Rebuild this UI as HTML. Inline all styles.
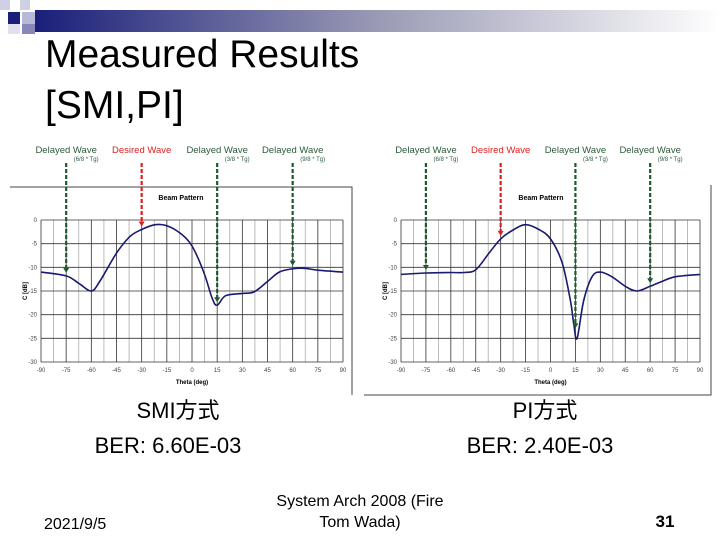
<!DOCTYPE html>
<html><head><meta charset="utf-8"><style>
body{margin:0;width:720px;height:540px;background:#fff;overflow:hidden;font-family:"Liberation Sans","Noto Sans CJK JP",sans-serif}
svg text{font-family:"Liberation Sans","Noto Sans CJK JP",sans-serif}
</style></head><body>
<svg id="s" width="720" height="540" xmlns="http://www.w3.org/2000/svg">
<defs><linearGradient id="g" x1="0" x2="1"><stop offset="0" stop-color="#1a1f7a"/><stop offset="0.5" stop-color="#9a9ab5"/><stop offset="1" stop-color="#fff"/></linearGradient></defs>
<rect x="35" y="10" width="685" height="22" fill="url(#g)"/>
<rect x="0" y="0" width="10" height="10" fill="#d0d0e4"/>
<rect x="20" y="0" width="10" height="10" fill="#d0d0e4"/>
<rect x="8" y="12" width="12" height="12" fill="#1a1f7a"/>
<rect x="22" y="12" width="13" height="12" fill="#b8b8d8"/>
<rect x="22" y="24" width="13" height="10" fill="#8888b8"/>
<rect x="8" y="24" width="12" height="10" fill="#e0e0ee"/>
<text x="45" y="67" font-size="39">Measured Results</text>
<text x="45" y="118" font-size="39">[SMI,PI]</text>
<g id="c1"></g><g id="c2"></g>
<text x="178" y="418" font-size="22" text-anchor="middle">SMI方式</text>
<text x="168" y="453" font-size="22" text-anchor="middle">BER: 6.60E-03</text>
<text x="545" y="418" font-size="22" text-anchor="middle">PI方式</text>
<text x="540" y="453" font-size="22" text-anchor="middle">BER: 2.40E-03</text>
<text x="44" y="529" font-size="16">2021/9/5</text>
<text x="360" y="506" font-size="16" text-anchor="middle">System Arch 2008 (Fire</text>
<text x="360" y="527" font-size="16" text-anchor="middle">Tom Wada)</text>
<text x="665" y="527" font-size="17" font-weight="bold" text-anchor="middle">31</text>
</svg>
<script>
const ticksX=[-90,-75,-60,-45,-30,-15,0,15,30,45,60,75,90];
const ticksY=[0,-5,-10,-15,-20,-25,-30];
const smiTheta=[-90,-75,-67,-60,-55,-45,-37,-30,-22,-15,-7,0,7,12,15,20,30,37,45,52,60,67,75,90];
const smiGain=[-11,-11.8,-13.5,-15,-13,-7,-3.5,-2,-1,-1.2,-2.8,-5.5,-11,-16.5,-18,-16,-15.5,-15.2,-13,-11,-10.3,-10.2,-10.6,-11];
const piTheta=[-90,-75,-60,-52,-45,-37,-30,-22,-15,-7,0,7,12,14,16,20,25,30,37,45,52,60,67,75,90];
const piGain=[-11.5,-11.2,-11.1,-11.1,-10.5,-7,-4,-2,-1,-2,-4,-9,-17,-22,-25,-17,-12,-11,-12,-14,-15,-14,-13,-12,-11.5];
const arrowTheta=[-75,-30,15,60];
const arrowLabels=["Delayed Wave","Desired Wave","Delayed Wave","Delayed Wave"];
const arrowSubs=["(6/8 * Tg)","","(3/8 * Tg)","(9/8 * Tg)"];
const NS="http://www.w3.org/2000/svg";
function mk(p,t,a){const e=document.createElementNS(NS,t);for(const k in a)e.setAttribute(k,a[k]);p.appendChild(e);return e;}
function chart(id,th,gn,L,R,frame){
 const g=document.getElementById(id);const T=220,B=362;
 const xs=v=>L+(v+90)/180*(R-L), ys=v=>T+(-v)/30*(B-T);
 let e=mk(g,'path',{d:frame,fill:'none',stroke:'#444','stroke-width':1});
 
 
 for(let v=-90;v<=90;v+=7.5){e=mk(g,'line',{x1:xs(v),x2:xs(v),y1:T,y2:B,stroke:(v%15==0)?'#333':'#aaa','stroke-width':0.8});
  
  }
 ticksY.forEach(v=>{e=mk(g,'line',{x1:L,x2:R,y1:ys(v),y2:ys(v),stroke:'#333','stroke-width':0.8});
  
  
  e=mk(g,'text',{x:L-4,y:ys(v)+2,'font-size':6,'text-anchor':'end',fill:'#444'});e.textContent=v;
  
  });
 ticksX.forEach(v=>{e=mk(g,'text',{x:xs(v),y:B+10,'font-size':6,'text-anchor':'middle',fill:'#444'});e.textContent=v;
  
  });
 e=mk(g,'text',{x:(L+R)/2,y:B+22,'font-size':6,'font-weight':'bold','text-anchor':'middle'});e.textContent='Theta (deg)';
 
 
 e=mk(g,'text',{x:L-14,y:(T+B)/2,'font-size':6,'font-weight':'bold','text-anchor':'middle',transform:`rotate(-90 ${L-14} ${(T+B)/2})`});e.textContent='C [dB]';
 
 
 e=mk(g,'text',{x:L+140,y:200,'font-size':7,'font-weight':'bold','text-anchor':'middle'});e.textContent='Beam Pattern';
 
 
 const P=th.map((t,i)=>[xs(t),ys(gn[i])]);
 let d='M'+P[0][0].toFixed(1)+','+P[0][1].toFixed(1);
 for(let i=0;i<P.length-1;i++){const p0=P[Math.max(0,i-1)],p1=P[i],p2=P[i+1],p3=P[Math.min(P.length-1,i+2)];
  const c1=[p1[0]+(p2[0]-p0[0])/6,p1[1]+(p2[1]-p0[1])/6],c2=[p2[0]-(p3[0]-p1[0])/6,p2[1]-(p3[1]-p1[1])/6];
  d+=`C${c1[0].toFixed(1)},${c1[1].toFixed(1)} ${c2[0].toFixed(1)},${c2[1].toFixed(1)} ${p2[0].toFixed(1)},${p2[1].toFixed(1)}`;}
 e=mk(g,'path',{d:d,fill:'none',stroke:'#1a1a6e','stroke-width':1.6,'stroke-linejoin':'round'});
 
 
 arrowTheta.forEach((a,i)=>{
  let k=0;while(k<th.length-2&&th[k+1]<a)k++;
  const gy=gn[k]+(gn[k+1]-gn[k])*(a-th[k])/(th[k+1]-th[k]);
  const col=i==1?'#e02020':'#1e5a2e',x=xs(a),y2=ys(gy)-3;
  e=mk(g,'line',{x1:x,x2:x,y1:163,y2:y2-4,stroke:col,'stroke-width':2.2,'stroke-dasharray':'4,2'});
  
  
  e=mk(g,'path',{d:`M${x-3},${y2-5}L${x+3},${y2-5}L${x},${y2}Z`,fill:col});
  
  
  e=mk(g,'text',{x:x,y:153,'font-size':9.5,'text-anchor':'middle',fill:i==1?'#e02020':'#2d5a3a'});e.textContent=arrowLabels[i];
  
  
  if(arrowSubs[i]){e=mk(g,'text',{x:x+20,y:161,'font-size':6,'text-anchor':'middle',fill:'#2d5a3a'});e.textContent=arrowSubs[i];
  
  }
 });
}
chart('c1',smiTheta,smiGain,41,343,'M10,187L352,187L352,395');
chart('c2',piTheta,piGain,401,700,'M711,185L711,395L364,395');
</script>
</body></html>
